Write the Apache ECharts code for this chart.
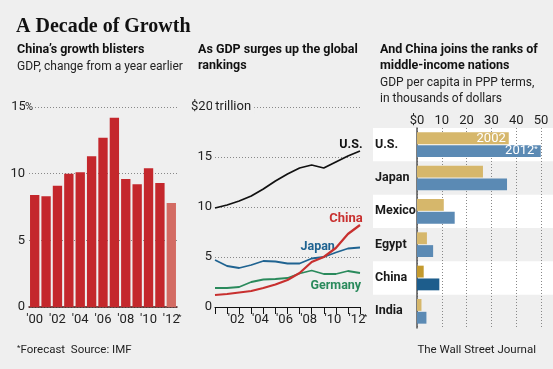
<!DOCTYPE html>
<html><head><meta charset="utf-8">
<script src="https://cdn.jsdelivr.net/npm/echarts@6/dist/echarts.min.js"></script>
<style>html,body{margin:0;padding:0;background:#efefef;}#c{width:553px;height:369px;}</style>
</head><body><div id="c"></div>
<script>
// ---- data ----
const yearLabels = ["'00","'01","'02","'03","'04","'05","'06","'07","'08","'09","'10","'11","'12"];
const growth = [8.4, 8.3, 9.1, 10.0, 10.1, 11.3, 12.7, 14.2, 9.6, 9.2, 10.4, 9.3, 7.8];
const growthTicks = [0, 5, 10, 15];
const usGDP = [9.9, 10.2, 10.6, 11.1, 11.8, 12.6, 13.3, 13.9, 14.2, 13.9, 14.5, 15.1, 15.6];
const japanGDP = [4.7, 4.1, 3.9, 4.2, 4.6, 4.55, 4.35, 4.35, 4.85, 5.0, 5.45, 5.85, 5.95];
const chinaGDP = [1.2, 1.3, 1.45, 1.6, 1.9, 2.25, 2.7, 3.4, 4.5, 5.0, 5.9, 7.3, 8.2];
const germanyGDP = [1.9, 1.9, 2.0, 2.5, 2.75, 2.8, 2.9, 3.35, 3.65, 3.3, 3.3, 3.6, 3.4];
const gdpTicks = [0, 5, 10, 15, 20];
const countries = ['U.S.', 'Japan', 'Mexico', 'Egypt', 'China', 'India'];
const pc2002 = [37.0, 26.6, 10.8, 4.0, 2.7, 1.8];
const pc2012 = [49.9, 36.3, 15.2, 6.5, 9.0, 3.8];
const pcTicks = [0, 10, 20, 30, 40, 50];

const FF = "Roboto,'Liberation Sans',sans-serif";
const TXT = '#222';
const BG = '#efefef';
const AX = 13;

const chart = echarts.init(document.getElementById('c'));
const star = {fontSize: 8, verticalAlign: 'top', width: 0, align: 'left', fontFamily: FF, color: TXT, lineHeight: 13};

const growthColors = growth.map((v, i) => i === growth.length - 1 ? '#d36b63' : '#c4272c');

function lineData(arr, idx, label) {
  return arr.map((v, i) => i === idx ? {value: v, label: label} : v);
}
const lineCommon = {type: 'line', xAxisIndex: 1, yAxisIndex: 1, symbol: 'circle', symbolSize: 0.1, showAllSymbol: true,
  itemStyle: {color: 'rgba(0,0,0,0)'}};

const option = {
  backgroundColor: BG,
  animation: false,
  textStyle: {fontFamily: FF},
  title: [
    {text: 'A Decade of Growth', left: 11, top: 12, textStyle: {fontFamily: "'Liberation Serif','DejaVu Serif',serif", fontWeight: 'bold', fontSize: 20, color: '#111'}},
    {text: 'China\u2019s growth blisters', subtext: 'GDP, change from a year earlier', left: 12, top: 37, itemGap: 1,
      textStyle: {fontFamily: FF, fontWeight: 'bold', fontSize: 12.5, color: '#111', lineHeight: 16},
      subtextStyle: {fontFamily: FF, fontSize: 12, color: TXT, lineHeight: 16}},
    {text: 'As GDP surges up the global\nrankings', left: 193, top: 37,
      textStyle: {fontFamily: FF, fontWeight: 'bold', fontSize: 12.5, color: '#111', lineHeight: 16}},
    {text: 'And China joins the ranks of\nmiddle-income nations', subtext: 'GDP per capita in PPP terms,\nin thousands of dollars', left: 375, top: 37, itemGap: 1,
      textStyle: {fontFamily: FF, fontWeight: 'bold', fontSize: 12.5, color: '#111', lineHeight: 16},
      subtextStyle: {fontFamily: FF, fontSize: 12, color: TXT, lineHeight: 16}},
    {text: '{s|*}Forecast  Source: IMF', left: 12, top: 339,
      textStyle: {fontFamily: FF, fontSize: 11.5, color: TXT, fontWeight: 'normal', rich: {s: {fontSize: 8, verticalAlign: 'top', color: TXT, fontFamily: FF, lineHeight: 12}}}},
    {text: 'The Wall Street Journal', right: 12, top: 339,
      textStyle: {fontFamily: FF, fontSize: 11.5, color: TXT, fontWeight: 'normal'}}
  ],
  grid: [
    {left: 29, top: 107, width: 148, height: 200},
    {left: 215, top: 107, width: 145, height: 200},
    {left: 417, top: 128, width: 124, height: 200},
    {left: 373, top: 128, width: 180, height: 200}
  ],
  xAxis: [
    {gridIndex: 0, type: 'category', data: yearLabels,
      axisLine: {lineStyle: {color: '#4a1a1a', width: 1.5}}, axisTick: {show: false},
      axisLabel: {interval: 1, margin: 6, fontSize: AX, color: TXT, fontFamily: FF,
        formatter: (v, i) => i === yearLabels.length - 1 ? v + '{s|*}' : v, rich: {s: star}}},
    {gridIndex: 1, type: 'category', data: yearLabels, boundaryGap: false,
      axisLine: {lineStyle: {color: '#111', width: 1.2}},
      axisTick: {show: true, interval: 0, length: 7, lineStyle: {color: '#111', width: 1}},
      axisLabel: {interval: (i) => i > 0 && i % 2 === 0, margin: 6, fontSize: AX, color: TXT, fontFamily: FF, padding: [0, 6, 0, 0],
        formatter: (v, i) => i === yearLabels.length - 1 ? v + '{s|*}' : v, rich: {s: star}}},
    {gridIndex: 2, type: 'value', position: 'top', min: 0, max: 50, interval: 10,
      axisLine: {show: false}, axisTick: {show: false},
      splitLine: {lineStyle: {color: '#888', type: [1, 2], width: 1}},
      axisLabel: {margin: 1, fontSize: AX, color: TXT, fontFamily: FF, formatter: v => v === 0 ? '$0' : String(v)}},
    {gridIndex: 3, type: 'value', min: 0, max: 1, show: false}
  ],
  yAxis: [
    {gridIndex: 0, type: 'value', min: 0, max: 15, interval: 5,
      axisLine: {show: false}, axisTick: {show: false},
      splitLine: {lineStyle: {color: '#888', type: [1, 2], width: 1}},
      axisLabel: {align: 'left', margin: 17, fontSize: AX, color: TXT, fontFamily: FF,
        formatter: v => v === 15 ? '{n|15}{p|%}' : '{n|' + v + '}',
        rich: {n: {width: 13, align: 'right', fontSize: AX, color: TXT, fontFamily: FF},
               p: {fontSize: 11, color: TXT, fontFamily: FF, backgroundColor: BG, padding: [0, 1, 0, 0]}}}},
    {gridIndex: 1, type: 'value', min: 0, max: 20, interval: 5,
      axisLine: {show: false}, axisTick: {show: false},
      splitLine: {lineStyle: {color: '#888', type: [1, 2], width: 1}},
      axisLabel: {align: 'left', margin: 23, fontSize: AX, color: TXT, fontFamily: FF,
        formatter: v => v === 20 ? '{n|$20}{t| trillion}' : '{n|' + v + '}',
        rich: {n: {width: 20, align: 'right', fontSize: AX, color: TXT, fontFamily: FF},
               t: {fontSize: AX, color: TXT, fontFamily: FF, backgroundColor: BG, padding: [0, 3, 0, 0]}}}},
    {gridIndex: 2, type: 'category', data: countries, inverse: true,
      axisLine: {lineStyle: {color: '#555', width: 1.5}}, axisTick: {show: false},
      axisLabel: {align: 'left', margin: 42, fontSize: 12.5, fontWeight: 'bold', color: '#1a1a1a', fontFamily: FF, padding: [0, 0, 6, 0]}},
    {gridIndex: 3, type: 'category', data: countries, inverse: true, show: true,
      axisLine: {show: false}, axisTick: {show: false}, axisLabel: {show: false},
      splitLine: {show: false},
      splitArea: {show: true, areaStyle: {color: ['#ffffff', 'rgba(0,0,0,0)']}}}
  ],
  series: [
    {type: 'bar', xAxisIndex: 0, yAxisIndex: 0, barCategoryGap: '18%',
      data: growth.map((v, i) => ({value: v, itemStyle: {color: growthColors[i]}}))},
    Object.assign({}, lineCommon, {z: 3,
      lineStyle: {color: '#2a8a5c', width: 1.8},
      data: lineData(germanyGDP, 10, {show: true, position: 'bottom', distance: 5, formatter: 'Germany', color: '#2a8a5c', fontWeight: 'bold', fontSize: 12.5, fontFamily: FF})}),
    Object.assign({}, lineCommon, {z: 4,
      lineStyle: {color: '#1f6391', width: 1.8},
      data: lineData(japanGDP, 8, {show: true, position: 'top', distance: 5, offset: [6, 0], formatter: 'Japan', color: '#1f6391', fontWeight: 'bold', fontSize: 12.5, fontFamily: FF})}),
    Object.assign({}, lineCommon, {z: 5,
      lineStyle: {color: '#111', width: 1.8},
      data: lineData(usGDP, 11, {show: true, position: 'top', distance: 5, offset: [3, 0], formatter: 'U.S.', color: '#111', fontWeight: 'bold', fontSize: 12.5, fontFamily: FF})}),
    Object.assign({}, lineCommon, {z: 6,
      lineStyle: {color: '#c8302f', width: 2.2},
      data: lineData(chinaGDP, 11, {show: true, position: 'top', distance: 5, offset: [-2, -4], formatter: 'China', color: '#c8302f', fontWeight: 'bold', fontSize: 13, fontFamily: FF})}),
    {type: 'bar', name: '2002', xAxisIndex: 2, yAxisIndex: 2, barGap: '8%', barCategoryGap: '26%',
      itemStyle: {color: '#d6b76b'},
      data: pc2002.map((v, i) => {
        const d = {value: v};
        if (countries[i] === 'China') d.itemStyle = {color: '#c49a2e'};
        if (i === 0) d.label = {show: true, position: 'insideRight', distance: 3, formatter: '2002', color: '#fff', fontSize: AX, fontFamily: FF};
        return d;
      })},
    {type: 'bar', name: '2012*', xAxisIndex: 2, yAxisIndex: 2,
      itemStyle: {color: '#5b8ab4'},
      data: pc2012.map((v, i) => {
        const d = {value: v};
        if (countries[i] === 'China') d.itemStyle = {color: '#1d5d8c'};
        if (i === 0) d.label = {show: true, position: 'insideRight', distance: 3, formatter: '2012{s|*}', color: '#fff', fontSize: AX, fontFamily: FF,
          rich: {s: {fontSize: 8, verticalAlign: 'top', color: '#fff', fontFamily: FF}}};
        return d;
      })}
  ]
};
chart.setOption(option);
</script>
</body></html>
